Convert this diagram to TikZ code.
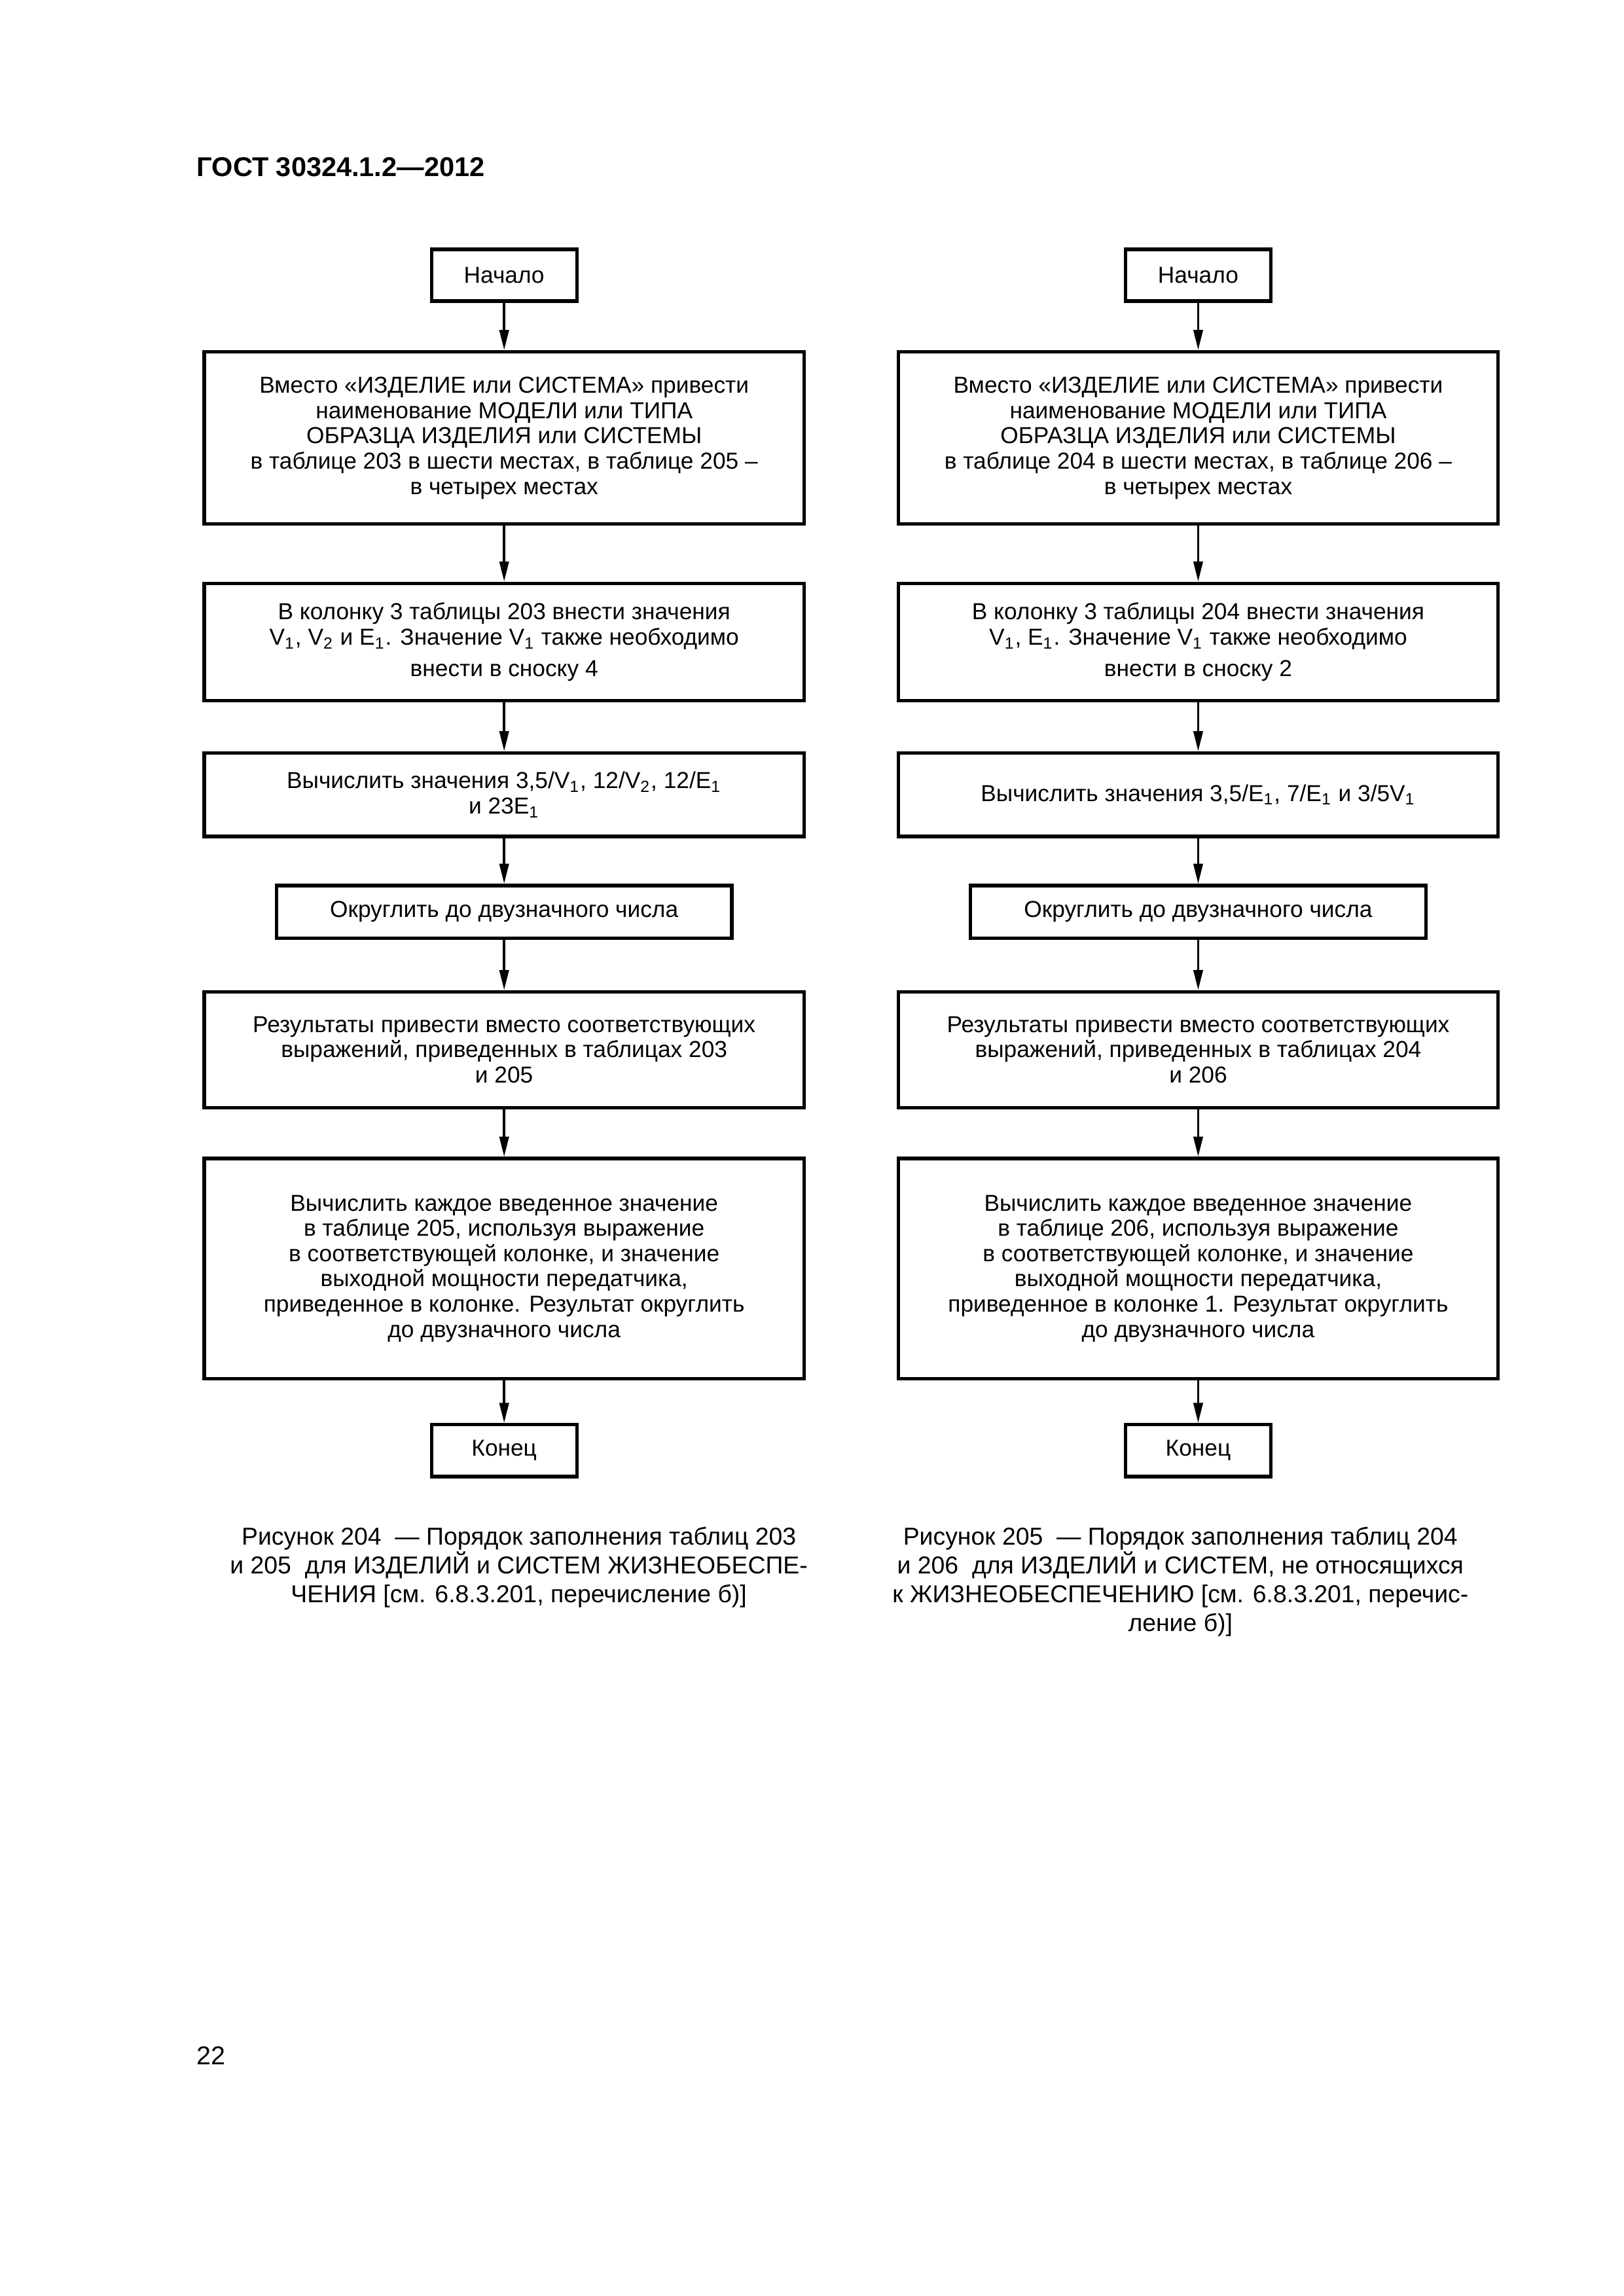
\documentclass[tikz,border=0pt]{standalone}
\usepackage{fontspec}
\setmainfont{Liberation Sans}
\usetikzlibrary{positioning,arrows.meta}

\begin{document}
\begin{tikzpicture}[->,>={Triangle[length=2.6mm,width=1.2mm]},line width=0.3mm,node distance=6.5mm,x=0.1904mm,y=-0.1904mm]
  \tikzstyle{blok}=[draw,line width=0.45mm,minimum width=77.6mm,align=center,inner sep=0pt,font=\fontsize{8.5}{9.3}\selectfont]
  \tikzstyle{malblok}=[blok,minimum width=58.9mm,minimum height=6.8mm]
  \tikzstyle{termblok}=[blok,minimum width=18.8mm,minimum height=6.7mm]
  \tikzstyle{podpis}=[align=center,anchor=north,font=\fontsize{9}{10.6}\selectfont]
  \useasboundingbox (0,0) rectangle (1103,1560);
  \node[anchor=base west,inner sep=0pt,font=\bfseries\fontsize{10}{12}\selectfont] (gost) at (133,120) {ГОСТ 30324.1.2—2012};
  \node[anchor=base west,inner sep=0pt,font=\fontsize{9.5}{11}\selectfont] (str) at (133,1403) {22};

  % левая колонка
  \node[termblok] (nachL) at (342.5,187) {Начало};
  \node[blok,minimum height=22.3mm,below=6.1mm of nachL] (vmestoL) {Вместо «ИЗДЕЛИЕ или СИСТЕМА» привести\\наименование МОДЕЛИ или ТИПА\\ОБРАЗЦА ИЗДЕЛИЯ или СИСТЕМЫ\\в таблице 203 в шести местах, в таблице 205 –\\в четырех местах};
  \node[blok,minimum height=15.2mm,below=7.2mm of vmestoL] (kolL) {В колонку 3 таблицы 203 внести значения\\V\textsubscript{1}, V\textsubscript{2} и E\textsubscript{1}. Значение V\textsubscript{1} также необходимо\\[0.8mm]внести в сноску 4};
  \node[blok,minimum height=10.8mm,below=6.3mm of kolL] (vychL) {Вычислить значения 3,5/V\textsubscript{1}, 12/V\textsubscript{2}, 12/E\textsubscript{1}\\и 23E\textsubscript{1}};
  \node[malblok,below=5.9mm of vychL] (okrL) {Округлить до двузначного числа};
  \node[blok,minimum height=15mm,below=6.5mm of okrL] (rezL) {Результаты привести вместо соответствующих\\выражений, приведенных в таблицах 203\\и 205};
  \node[blok,minimum height=28.5mm,below=6.1mm of rezL] (kazhL) {Вычислить каждое введенное значение\\в таблице 205, используя выражение\\в соответствующей колонке, и значение\\выходной мощности передатчика,\\приведенное в колонке. Результат округлить\\до двузначного числа};
  \node[termblok,below=5.5mm of kazhL] (konL) {Конец};
  \node[podpis,below=5mm of konL,xshift=1.9mm] (podL) {Рисунок 204\ \ — Порядок заполнения таблиц 203\\и 205\ \ для ИЗДЕЛИЙ и СИСТЕМ ЖИЗНЕОБЕСПЕ-\\ЧЕНИЯ [см. 6.8.3.201, перечисление б)]};

  % правая колонка
  \node[termblok] (nachR) at (814,187) {Начало};
  \node[blok,minimum height=22.3mm,below=6.1mm of nachR] (vmestoR) {Вместо «ИЗДЕЛИЕ или СИСТЕМА» привести\\наименование МОДЕЛИ или ТИПА\\ОБРАЗЦА ИЗДЕЛИЯ или СИСТЕМЫ\\в таблице 204 в шести местах, в таблице 206 –\\в четырех местах};
  \node[blok,minimum height=15.2mm,below=7.2mm of vmestoR] (kolR) {В колонку 3 таблицы 204 внести значения\\V\textsubscript{1}, E\textsubscript{1}. Значение V\textsubscript{1} также необходимо\\[0.8mm]внести в сноску 2};
  \node[blok,minimum height=10.8mm,below=6.3mm of kolR] (vychR) {Вычислить значения 3,5/E\textsubscript{1}, 7/E\textsubscript{1} и 3/5V\textsubscript{1}};
  \node[malblok,below=5.9mm of vychR] (okrR) {Округлить до двузначного числа};
  \node[blok,minimum height=15mm,below=6.5mm of okrR] (rezR) {Результаты привести вместо соответствующих\\выражений, приведенных в таблицах 204\\и 206};
  \node[blok,minimum height=28.5mm,below=6.1mm of rezR] (kazhR) {Вычислить каждое введенное значение\\в таблице 206, используя выражение\\в соответствующей колонке, и значение\\выходной мощности передатчика,\\приведенное в колонке 1. Результат округлить\\до двузначного числа};
  \node[termblok,below=5.5mm of kazhR] (konR) {Конец};
  \node[podpis,below=5mm of konR,xshift=-2.3mm] (podR) {Рисунок 205\ \ — Порядок заполнения таблиц 204\\и 206\ \ для ИЗДЕЛИЙ и СИСТЕМ, не относящихся\\к ЖИЗНЕОБЕСПЕЧЕНИЮ [см. 6.8.3.201, перечис-\\ление б)]};

  \foreach \s in {L,R}
    \foreach \a/\b in {nach/vmesto,vmesto/kol,kol/vych,vych/okr,okr/rez,rez/kazh,kazh/kon}
      \draw (\a\s) -- (\b\s);
\end{tikzpicture}
\end{document}
